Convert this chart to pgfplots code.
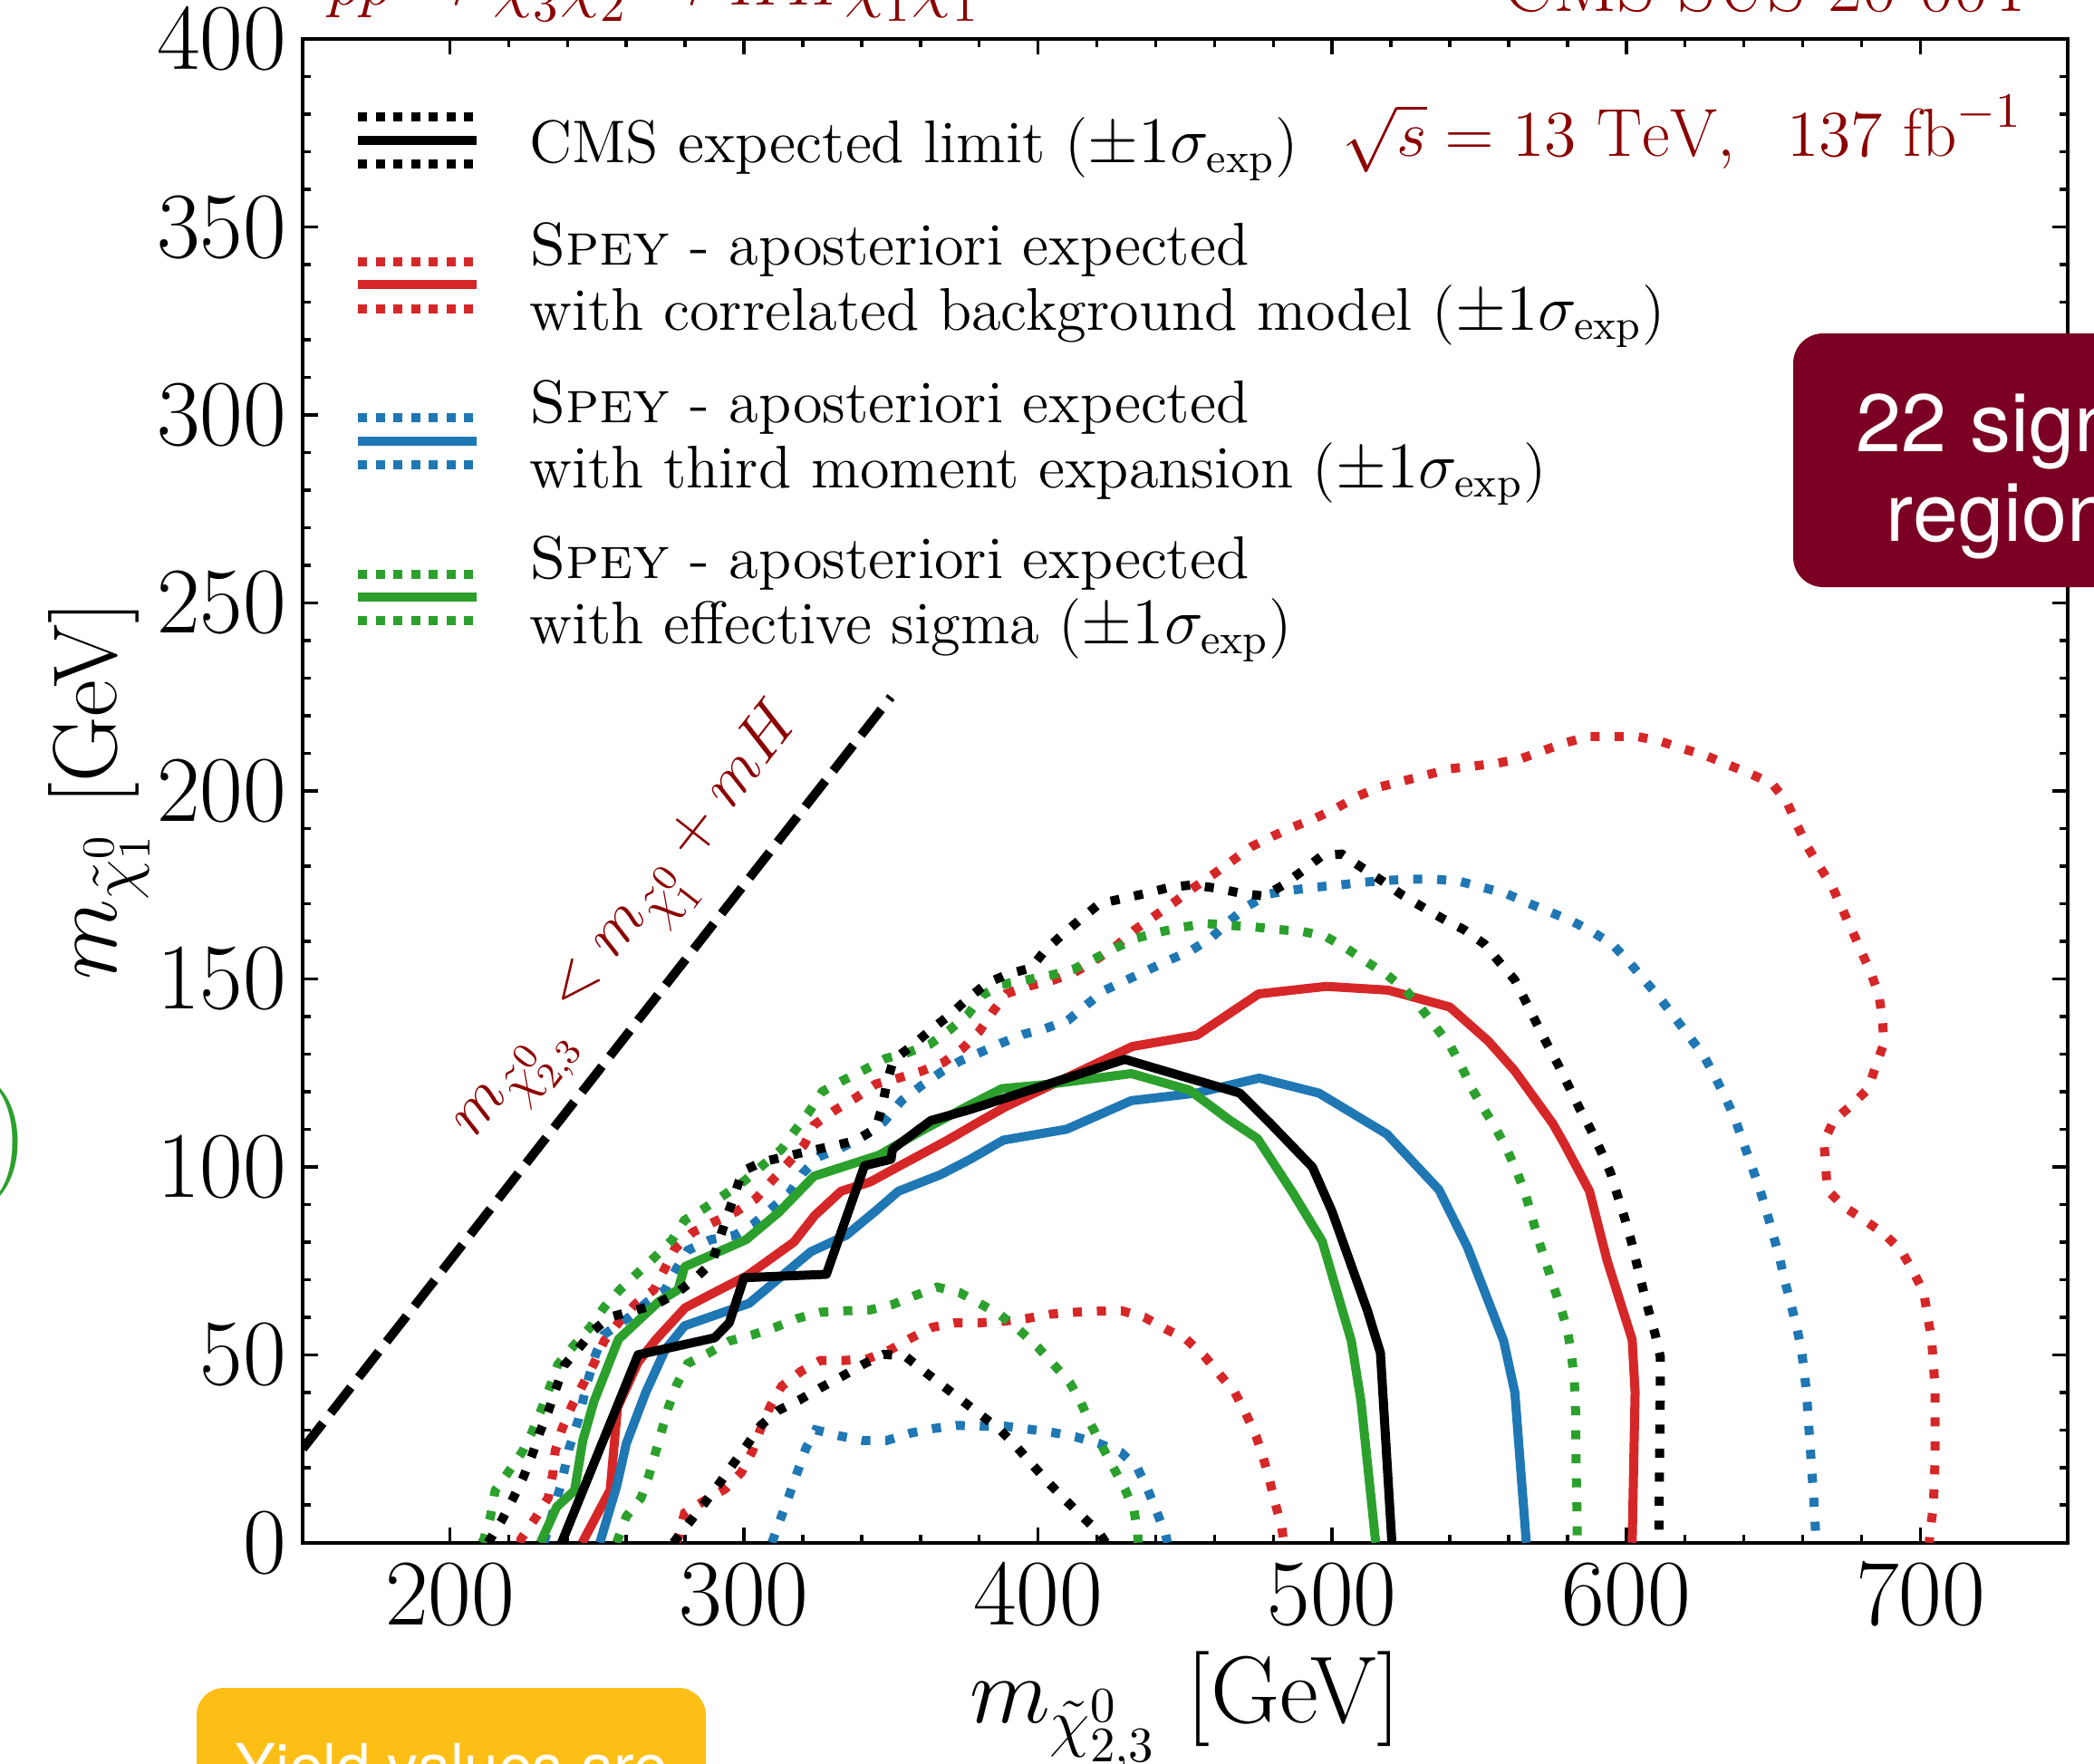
\documentclass[border=0pt]{standalone}
\usepackage{fontspec}
\usepackage{pgfplots}
\pgfplotsset{compat=1.18}
\newfontfamily\heros{TeX Gyre Heros}
\definecolor{cred}{HTML}{D62728}
\definecolor{cblue}{HTML}{1F77B4}
\definecolor{cgreen}{HTML}{2CA02C}
\definecolor{dred}{HTML}{8B0000}
\definecolor{boxred}{HTML}{7B0023}
\definecolor{boxyel}{HTML}{FDBE16}
\pgfplotsset{
  solidc/.style={line width=2pt, line join=round, mark=none},
  dotc/.style={line width=2pt, line cap=butt, dash pattern=on 2pt off 3.3pt, mark=none},
}
\begin{document}
\begin{tikzpicture}
\begin{axis}[
  at={(66.84pt,48.66pt)}, anchor=south west,
  scale only axis, width=389.5pt, height=331.9pt,
  xmin=150, xmax=750, ymin=0, ymax=400,
  xtick={200,300,...,700}, ytick={0,50,...,400},
  minor x tick num=4, minor y tick num=4,
  tick align=inside,
  major tick length=3.4pt, minor tick length=1.8pt,
  every tick/.style={black, line width=0.7pt},
  axis line style={line width=0.8pt},
  ticklabel style={font=\fontsize{20.8}{23}\selectfont},
  xticklabel style={inner sep=0pt, yshift=-4.5pt},
  yticklabel style={inner sep=0pt, xshift=-3.5pt},
  xlabel={$m_{\tilde{\chi}^0_{2,3}}$ [GeV]},
  ylabel={$m_{\tilde{\chi}^0_1}$ [GeV]},
  xlabel style={font=\fontsize{21}{23}\selectfont, at={(axis description cs:0.5,-0.1196)}, anchor=base},
  ylabel style={font=\fontsize{20}{22}\selectfont, at={(axis description cs:-0.1055,0.5)}, anchor=base},
]
% diagonal
\addplot[black, line width=2pt, dash pattern=on 7.2pt off 2.8pt, mark=none] coordinates {(150,25) (350,225)};
% ---------------- red ----------------
\addplot[cred, dotc] coordinates {(277,0) (277.6,1.4) (279.8,7.9) (286.4,11.1) (293.6,14.3) (299.1,18.7) (302.9,24.4) (305.7,30.4) (309,36.4) (312.8,41.6) (319.4,45.6) (326,48.5) (334.3,48.5) (342,48.9) (349.7,51.3) (356.9,54.5) (364,57.3) (371.7,58.5) (380,58.5) (388.2,58.9) (396.5,59.7) (404.2,60.8) (412.4,61.3) (420.7,61.6) (428.4,61.7) (436.1,60) (443.3,56.9) (450.4,54.1) (456.5,49.7) (461.7,44.8) (466.9,40) (470.6,34.4) (474.1,28.4) (476.6,22.5) (478.8,16.3) (480.7,10.3) (482.9,3.9) (483.5,0)};
\addplot[cred, dotc] coordinates {(224,0) (224.2,1) (229.2,6.7) (233.4,11.9) (235,18.3) (235.8,24.4) (238.2,30.4) (241.5,36.4) (245.2,42) (249,47.7) (252.5,53.7) (257.3,58.5) (263.1,63.5) (269.4,67.3) (273,72.8) (276.5,78.2) (282.6,82.6) (290,85.4) (297.4,88.1) (304,91.5) (309.5,96.3) (314.8,100.8) (320.5,105.9) (323.8,111.1) (331,115.1) (338.1,118.4) (344.8,122) (352.5,123.6) (360.2,125.4) (367.9,127.8) (374.5,131.6) (380,136) (384.6,141.3) (389.3,146.1) (397,148.1) (405.3,149.7) (412.4,151.7) (420.1,155.3) (426.8,158.9) (432.8,163) (439.4,166.6) (446,170.2) (452.6,174.1) (459.2,177.6) (465.8,181.3) (472.4,185.1) (479.6,187.9) (486.7,190.4) (494.4,192.8) (501.6,195.5) (509,198.7) (516.4,201.1) (524.4,202.7) (532.4,204.3) (540.1,205.9) (548,206.6) (556.3,207.4) (564.3,208.6) (572,210.8) (579.7,212.9) (587.2,214.5) (595.4,214.5) (603.6,214.5) (611.6,213.2) (619.1,211.3) (627,209.4) (634.5,207) (642.1,204.6) (649.6,201.9) (654.6,197.1) (657.9,191.2) (661.4,185.4) (665.6,180) (670,174.6) (673.3,168.8) (676.6,163.2) (679.9,157.3) (683.2,151.5) (685.9,145.7) (687.1,139.2) (687.6,132.8) (684.8,126.8) (682.3,120.8) (676.6,116.4) (670.5,112.3) (667.2,106.7) (667.8,100.3) (668.3,93.9) (673.8,89.5) (681,85.8) (687.6,82.2) (693.4,77.8) (697.5,72.2) (701.1,66.7) (702.4,60.5) (703.8,54.1) (704.4,47.7) (705,41.2) (705,22.2) (704.4,9.5) (703.3,3.2) (703,0)};
\addplot[cred, solidc] coordinates {(245,0) (254.5,14) (257,36) (264,48) (270,54) (280,62.5) (291,67) (301,71) (317,80) (324,87) (333,93.5) (343,96) (350,99) (369,107) (380,112) (389,116) (432,132) (454,135) (475,146) (498,148) (519,147) (540,142.5) (553,133.5) (562,125.6) (575,111.5) (579,106) (587.5,93.5) (593.5,75) (602,54) (603,40) (602,0)};
% ---------------- blue ----------------
\addplot[cblue, dotc] coordinates {(309.5,0) (312.6,6.7) (315.6,13.1) (318.3,19.1) (321.1,25.2) (324.4,30) (332.6,28.4) (340.4,27.2) (348.6,27.2) (356.9,29.2) (364.6,30.4) (372.3,31.2) (380.5,31) (388.8,31) (396.8,30.2) (405.1,29.3) (413,28.1) (420.7,26.4) (428.2,24) (433.7,20) (437.2,14.3) (440.3,8.3) (443.3,2.3) (444,0)};
\addplot[cblue, dotc] coordinates {(232,0) (235,8) (238,16) (240.5,25) (243.8,33) (246.5,42) (249.5,50) (252.3,55.3) (261.1,60.1) (267.2,64.1) (273.2,67.3) (277.1,73) (280.9,77.8) (288.6,80.6) (296.9,81.8) (302.9,84.6) (309.5,89) (315.6,93.2) (320,98.3) (325.5,102.7) (333.2,105.1) (340.4,108) (347.6,112) (353.6,117.6) (360.5,121.7) (367.4,125.4) (373.6,128.2) (380.5,130.5) (387.1,132.8) (394.8,135.2) (402.5,136.8) (410.2,139) (416.3,143) (422.7,147) (430.1,149.7) (437.2,152.3) (444.9,155.1) (452.4,157.7) (459,161) (465.3,165.5) (471.3,169.4) (478.5,172.6) (486.4,173.6) (494.4,174.4) (502.7,175) (510.7,175.7) (518.6,176.2) (526.9,176.5) (535.2,176.5) (543.1,176) (550.8,174.4) (558.8,172.8) (566.2,170.3) (573.7,167.9) (581.2,165.5) (588.5,162.5) (595.4,159.1) (600.9,154.5) (606.1,149.7) (611.4,144.9) (616.4,139.8) (621.3,134.8) (626.3,129.6) (630.1,124.1) (633.7,118.4) (637,112.7) (639.7,106.6) (642.5,100.5) (645.2,94.5) (647.6,88.4) (649.8,82.2) (652,76.2) (653.8,69.9) (655.9,63.7) (657.9,57.5) (659.5,51.5) (660.6,45) (661.4,38.7) (661.9,32.4) (662.5,26) (663,19.8) (663.6,13.4) (664.1,7.1) (664.5,0)};
\addplot[cblue, solidc] coordinates {(251,0) (256.7,15) (260,26.4) (266.6,40) (273.2,51.3) (279.8,57.7) (301.8,63.7) (322.7,77.4) (334.8,81.8) (344.7,88.2) (352.5,93.5) (366.8,97.9) (376.7,101.9) (388.2,107.1) (409.7,110) (431.7,117.6) (453.7,119.6) (475.2,123.6) (495.5,119.6) (518.6,108.7) (536.3,93.9) (546,78.6) (558.3,53.7) (562.1,40) (566,0)};
% ---------------- green ----------------
\addplot[cgreen, dotc] coordinates {(256.7,0) (260,7) (265,11.9) (267.7,17.9) (269.9,23.9) (272.1,30) (274.3,36) (277.1,42) (280.9,47.7) (288.1,50.5) (295.2,53.7) (302.9,55.3) (310.6,57.3) (318.3,59.7) (326,61.3) (334.3,61.7) (342.6,61.9) (350.3,63.3) (358,65.7) (365.7,68) (373.4,66.5) (380.5,63.5) (387.3,60.5) (393.7,56.5) (399.8,52.1) (405.3,47.4) (410.8,42.6) (414.6,37.2) (418,31.4) (421.8,25.6) (425.6,20) (429.5,14.3) (432.6,8.7) (433.9,2.4) (434,0)};
\addplot[cgreen, dotc] coordinates {(211,0) (211.6,1) (213.8,7) (215.4,13.9) (219.8,18.7) (224.8,24.4) (228.1,29.7) (231.4,36) (234.1,41.6) (236.7,47.4) (242.2,52.5) (247.7,57.3) (252.3,62.5) (257.8,67.3) (263.9,71.8) (269.7,76) (275.6,80.6) (279.8,85.8) (286.6,89) (293.6,92.7) (300.2,96.3) (306.2,100.3) (312.8,104.7) (317.2,109.5) (321.6,114) (326.6,120) (333.2,122.8) (340.9,125.8) (348.1,128.8) (355.8,130.4) (363.2,132.6) (369.9,136.4) (376.1,140.5) (381.1,145.7) (387.7,148.5) (395.9,149.7) (404,150.9) (411.9,152.5) (419.1,155.3) (426.5,158.3) (433.7,160.9) (441.6,162.5) (449.3,163.8) (457.6,164.7) (465.6,164.2) (473.7,163.8) (482,163.1) (490,162.6) (497.7,161.3) (504.9,158.1) (511.8,154.5) (518.6,151.1) (525,147) (530.2,142.2) (535.2,137.2) (540.1,132.3) (544,126.6) (547.5,120.8) (551.5,115.5) (555.8,110) (559.6,104.3) (562.9,98.5) (565.8,92.5) (568,86.4) (570.2,80.4) (572.8,74.2) (575.3,68.2) (577.9,62.1) (580.1,56.1) (581.4,49.7) (582.3,43.4) (582.7,37.1) (582.8,30.8) (583,17.9) (583.3,5.1) (583.3,0)};
\addplot[cgreen, solidc] coordinates {(230.8,0) (236.3,9.5) (242.4,13.9) (245.2,27.2) (249,37.6) (257.3,54.1) (262.2,57.7) (271,64.1) (277.6,67.3) (279.8,73.4) (300.7,80.6) (311.7,87.8) (323.8,97.5) (345.9,103.1) (361.3,110) (376.7,116.4) (387.7,120.8) (404.2,122) (431.7,124.8) (451.5,120.4) (465,112.5) (474.6,107.5) (486.7,93) (496.6,80.2) (506.5,53.7) (509.8,37.6) (514.8,0)};
% ---------------- black ----------------
\addplot[black, dotc] coordinates {(276,0) (279,3) (286.4,10.3) (291.4,15.5) (296.1,20.7) (300.7,25.6) (305.7,31.2) (311.7,35.2) (318.9,38) (326,41.2) (333.2,44.2) (340.4,47.4) (347.5,50.1) (354.7,49.7) (361.3,45.6) (367.9,41.6) (373.9,38) (380.5,34) (387.1,30) (392.6,25.6) (398.1,20.7) (403.6,15.9) (409.1,11.5) (415,7) (420.7,2.7) (423,0)};
\addplot[black, dotc] coordinates {(213,0) (213.8,1) (217.6,5.9) (221.3,11.5) (224.8,17.1) (227.9,23.2) (230.5,29.2) (233.4,34.8) (236,40.8) (238.9,47.2) (243.8,51.7) (248.6,56.3) (254.3,60) (262,61.6) (269.9,63.3) (277.1,66.4) (283.3,70.2) (289.2,74.6) (291.7,80.8) (294.1,86.6) (296.9,92.7) (299.4,98.8) (306.2,101.3) (314,102.7) (321.6,104.1) (329.9,105.5) (337.6,106.9) (344.8,110.1) (347,116) (348.6,122.4) (350.8,128.4) (357.4,132.4) (363.5,136.4) (370.1,140.5) (376.5,145) (382.7,148.9) (389.9,151.3) (397.6,152.9) (402.5,157.7) (408.6,162) (414.6,166) (420.9,170) (428.9,171.4) (437,172.8) (444.9,174.4) (452.6,175) (460.9,174.1) (468.9,172.8) (477,172) (483.4,175) (490,178.8) (496.6,182.8) (503.2,183.2) (510.1,179.6) (516.7,176.2) (523.6,172.4) (530.5,169.2) (537.6,166) (544.8,163.1) (551.7,159.3) (556.8,154.5) (562.1,149.7) (565.8,144) (569.3,138.5) (573.1,132.6) (576.8,127.2) (580.5,121.3) (584.1,115.5) (587.8,110.1) (591.3,104.3) (594.6,98.5) (597,92.4) (599.5,86.2) (601.7,80.2) (603.6,74) (605.6,67.7) (607.6,61.7) (609.8,55.5) (611.6,49.3) (611.6,42.8) (611.3,20) (611.1,4.7) (611,0)};
\addplot[black, solidc] coordinates {(238,0) (264,50) (290,54.5) (295,58.5) (300,70.5) (328,71.4) (341,100.3) (350,102) (350.5,104.7) (363.5,112.3) (376.7,115.2) (429.5,128.6) (468.6,119.6) (479,111.5) (493.3,99.9) (499.9,88.2) (512,61.7) (516.4,50.5) (520.3,0)};
% diagonal label
\node[rotate=52, text=dred, font=\fontsize{15.5}{17}\selectfont] at (axis cs:263,163.4) {$m_{\tilde{\chi}^0_{2,3}} < m_{\tilde{\chi}^0_1} + mH$};
\end{axis}
% ---------- legend (manual) ----------
\begin{scope}[line width=2pt]
\foreach \c/\ya/\yb/\yc in {black/363.3/358.2/352.9, cred/331.4/326.4/321.1, cblue/297/291.9/286.6, cgreen/262.4/257.4/252.2}{
  \draw[\c, line cap=butt, dash pattern=on 2pt off 1.9pt] (79pt,\ya pt) -- (105.2pt,\ya pt);
  \draw[\c] (79pt,\yb pt) -- (105.2pt,\yb pt);
  \draw[\c, line cap=butt, dash pattern=on 2pt off 1.9pt] (79pt,\yc pt) -- (105.2pt,\yc pt);
}
\end{scope}
\begin{scope}[every node/.style={anchor=base west, inner sep=0pt, font=\fontsize{13.3}{14.4}\selectfont}]
\node at (116.6pt,353.2pt) {CMS expected limit ($\pm1\sigma_{\mathrm{exp}}$)};
\node at (116.6pt,330.8pt) {\textsc{Spey} - aposteriori expected};
\node at (116.6pt,316.4pt) {with correlated background model ($\pm1\sigma_{\mathrm{exp}}$)};
\node at (116.6pt,296pt) {\textsc{Spey} - aposteriori expected};
\node at (116.6pt,281.6pt) {with third moment expansion ($\pm1\sigma_{\mathrm{exp}}$)};
\node at (116.6pt,261.6pt) {\textsc{Spey} - aposteriori expected};
\node at (116.6pt,247.1pt) {with effective sigma ($\pm1\sigma_{\mathrm{exp}}$)};
\end{scope}
\node[anchor=base east, inner sep=0pt, text=dred, font=\fontsize{15}{17}\selectfont] at (446.6pt,354.7pt) {$\sqrt{s}=13~\mathrm{TeV},~~137~\mathrm{fb}^{-1}$};
% top titles (cut by page)
\node[anchor=base west, inner sep=0pt, text=dred, font=\fontsize{15.5}{17}\selectfont] at (72.2pt,388pt) {$pp \rightarrow \tilde{\chi}^0_3\tilde{\chi}^0_2 \rightarrow HH\tilde{\chi}^0_1\tilde{\chi}^0_1$};
\node[anchor=base east, inner sep=0pt, text=dred, font=\fontsize{16.5}{18}\selectfont] at (446.6pt,386.6pt) {CMS-SUS-20-004};
% red box
\fill[boxred, rounded corners=6.6pt] (395.8pt,259.6pt) rectangle (498pt,315.6pt);
\node[anchor=base, inner sep=0pt, text=white, font=\heros\fontsize{18}{20}\selectfont] at (445.8pt,289.6pt) {22 signal};
\node[anchor=base, inner sep=0pt, text=white, font=\heros\fontsize{18}{20}\selectfont] at (445.8pt,269.8pt) {regions};
% yellow box
\fill[boxyel, rounded corners=6pt] (43.4pt,-12pt) rectangle (155.8pt,16.6pt);
\node[anchor=base west, inner sep=0pt, text=white, font=\heros\fontsize{13.5}{15}\selectfont] at (51.6pt,-5.5pt) {Yield values are};
% green parenthesis
\node[anchor=base east, inner sep=0pt, text=cgreen, font=\fontsize{27}{30}\selectfont] at (6.6pt,130.4pt) {)};
\pgfresetboundingbox
\path[use as bounding box] (0,0) rectangle (462.2pt,389.2pt);
\end{tikzpicture}
\end{document}
